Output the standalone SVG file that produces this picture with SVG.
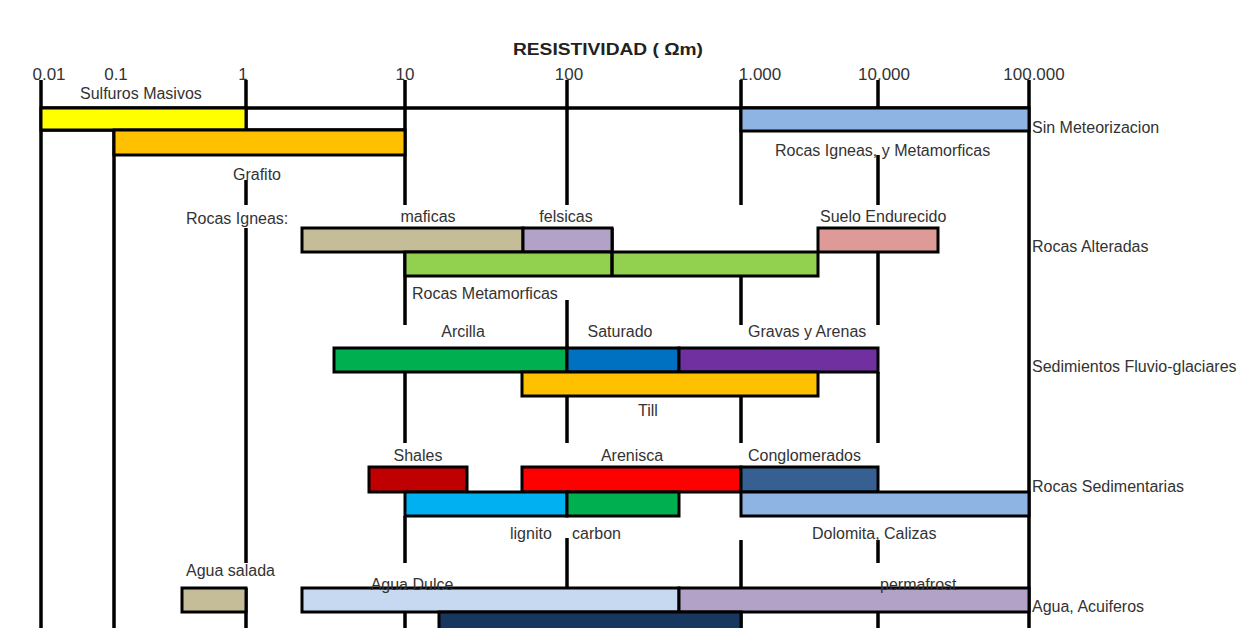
<svg xmlns="http://www.w3.org/2000/svg" width="1256" height="628" viewBox="0 0 1256 628">
<style>
.t{font-family:"Liberation Sans",Arial,sans-serif;font-size:16px;fill:#333}
.ax{font-family:"Liberation Sans",Arial,sans-serif;font-size:17px;fill:#333}
.b{stroke:#000;stroke-width:3}
.v{stroke:#000;stroke-width:3.5;fill:none}
</style>
<rect width="1256" height="628" fill="#fff"/>
<text x="608" y="55" text-anchor="middle" font-family="Liberation Sans,Arial,sans-serif" font-weight="bold" font-size="16" fill="#222" textLength="190" lengthAdjust="spacingAndGlyphs">RESISTIVIDAD ( Ωm)</text>
<g id="axis-labels">
<text class="ax" x="49" y="80" text-anchor="middle">0.01</text>
<text class="ax" x="116" y="80" text-anchor="middle">0.1</text>
<text class="ax" x="243" y="80" text-anchor="middle">1</text>
<text class="ax" x="405" y="80" text-anchor="middle">10</text>
<text class="ax" x="569" y="80" text-anchor="middle">100</text>
<text class="ax" x="760" y="80" text-anchor="middle">1.000</text>
<text class="ax" x="884" y="80" text-anchor="middle">10.000</text>
<text class="ax" x="1034" y="80" text-anchor="middle">100.000</text>
</g>
<g id="connectors">
<path class="v" d="M41 80V628M114 131V628M1029 80V628M41 108H1029M41 130H405
M246 80V130M246 180V205M246 228V563M246 588V628
M405 80V205M405 252V325M405 372V443M405 516V563M405 612V628
M567 80V205M567 300V348M567 372V443M567 538V588
M741 80V205M741 276V325M741 396V443M741 540V588M741 612V628
M878 80V108M878 155V205M878 252V325M878 372V443M878 540V563M878 612V628
M612 228V276"/>
</g>
<g id="sulfuros"><rect class="b" x="41" y="108" width="205" height="22" fill="#FFFF00"/></g>
<g id="grafito"><rect class="b" x="114" y="130" width="291" height="25" fill="#FFC000"/></g>
<g id="igneas-meta"><rect class="b" x="741" y="108" width="288" height="23" fill="#8DB4E2"/></g>
<g id="maficas"><rect class="b" x="302" y="228" width="221" height="24" fill="#C4BD97"/></g>
<g id="felsicas"><rect class="b" x="523" y="228" width="89" height="24" fill="#B3A2C7"/></g>
<g id="suelo"><rect class="b" x="818" y="228" width="120" height="24" fill="#DE9A96"/></g>
<g id="metamorficas"><rect class="b" x="405" y="252" width="413" height="24" fill="#92D050"/><line class="v" x1="612" y1="252" x2="612" y2="276"/></g>
<g id="arcilla"><rect class="b" x="334" y="348" width="233" height="24" fill="#00B050"/></g>
<g id="saturado"><rect class="b" x="567" y="348" width="112" height="24" fill="#0070C0"/></g>
<g id="gravas"><rect class="b" x="679" y="348" width="199" height="24" fill="#7030A0"/></g>
<g id="till"><rect class="b" x="522" y="372" width="296" height="24" fill="#FFC000"/></g>
<g id="shales"><rect class="b" x="369" y="467" width="98" height="25" fill="#C00000"/></g>
<g id="arenisca"><rect class="b" x="522" y="467" width="219" height="25" fill="#FF0000"/></g>
<g id="conglomerados"><rect class="b" x="741" y="467" width="137" height="25" fill="#376092"/></g>
<g id="lignito"><rect class="b" x="405" y="492" width="162" height="24" fill="#00B0F0"/></g>
<g id="carbon"><rect class="b" x="567" y="492" width="112" height="24" fill="#00B050"/></g>
<g id="dolomita"><rect class="b" x="741" y="492" width="288" height="24" fill="#8DB4E2"/></g>
<g id="agua-salada"><rect class="b" x="182" y="588" width="64" height="24" fill="#C4BD97"/></g>
<g id="agua-dulce"><rect class="b" x="302" y="588" width="377" height="24" fill="#C6D9F1"/></g>
<g id="permafrost"><rect class="b" x="679" y="588" width="350" height="24" fill="#B3A2C7"/></g>
<g id="navy"><rect class="b" x="439" y="612" width="302" height="20" fill="#17375E"/></g>
<g id="labels">
<text class="t" x="80" y="99">Sulfuros Masivos</text>
<text class="t" x="257" y="180" text-anchor="middle">Grafito</text>
<text class="t" x="775" y="156">Rocas Igneas, y Metamorficas</text>
<text class="t" x="1032" y="133">Sin Meteorizacion</text>
<text class="t" x="186" y="224">Rocas Igneas:</text>
<text class="t" x="428" y="222" text-anchor="middle">maficas</text>
<text class="t" x="566" y="222" text-anchor="middle">felsicas</text>
<text class="t" x="820" y="222">Suelo Endurecido</text>
<text class="t" x="1032" y="252">Rocas Alteradas</text>
<text class="t" x="412" y="299">Rocas Metamorficas</text>
<text class="t" x="463" y="337" text-anchor="middle">Arcilla</text>
<text class="t" x="620" y="337" text-anchor="middle">Saturado</text>
<text class="t" x="748" y="337">Gravas y Arenas</text>
<text class="t" x="1032" y="372">Sedimientos Fluvio-glaciares</text>
<text class="t" x="648" y="416" text-anchor="middle">Till</text>
<text class="t" x="418" y="461" text-anchor="middle">Shales</text>
<text class="t" x="632" y="461" text-anchor="middle">Arenisca</text>
<text class="t" x="748" y="461">Conglomerados</text>
<text class="t" x="1032" y="492">Rocas Sedimentarias</text>
<text class="t" x="510" y="539">lignito</text>
<text class="t" x="572" y="539">carbon</text>
<text class="t" x="812" y="539">Dolomita, Calizas</text>
<text class="t" x="186" y="576">Agua salada</text>
<text class="t" x="412" y="590" text-anchor="middle">Agua Dulce</text>
<text class="t" x="880" y="590">permafrost</text>
<text class="t" x="1032" y="612">Agua, Acuiferos</text>
</g>
</svg>
